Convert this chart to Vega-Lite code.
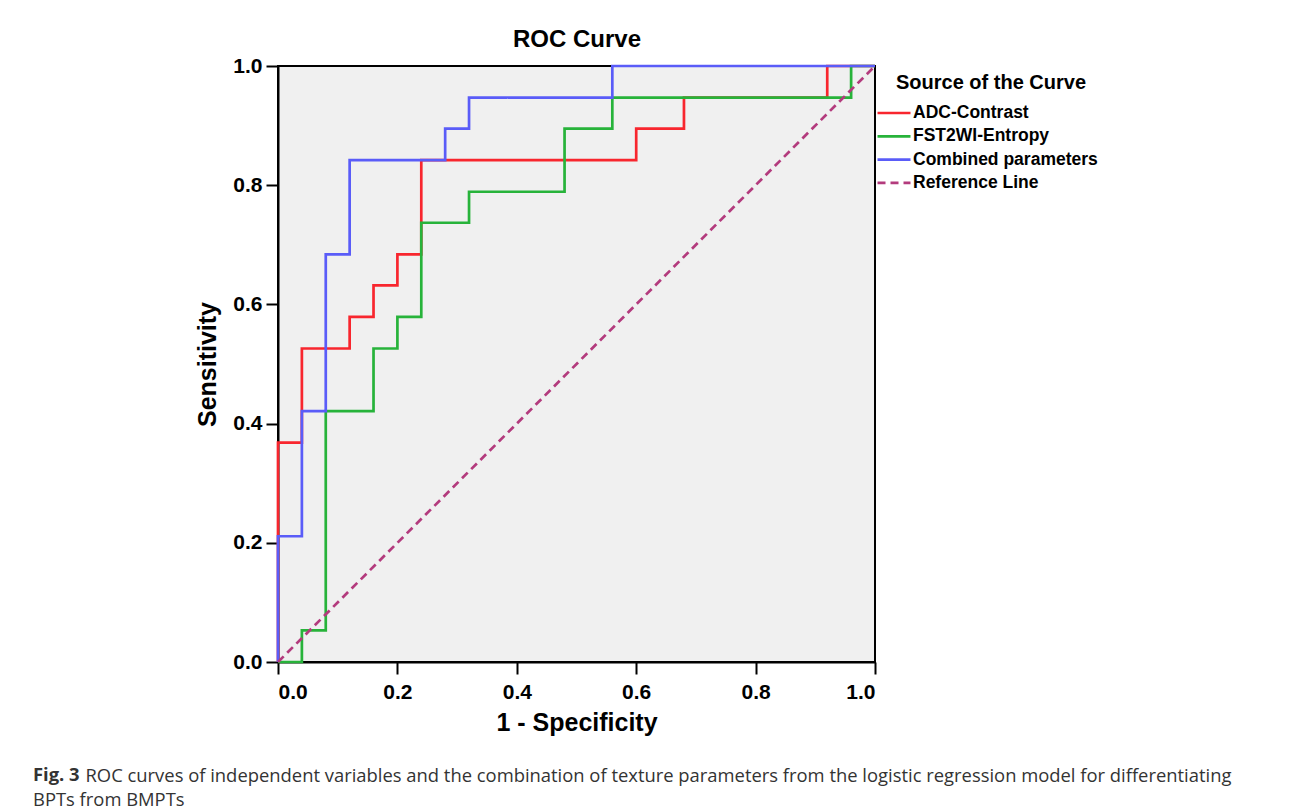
{
  "$schema": "https://vega.github.io/schema/vega-lite/v6.json",
  "width": 597,
  "height": 596,
  "autosize": {"type": "none"},
  "padding": {"left": 278, "top": 66, "right": 417, "bottom": 150},
  "background": "white",
  "datasets": {
    "roc": [
      {"curve": "ADC-Contrast", "order": 0, "x": 0, "y": 0},
      {"curve": "ADC-Contrast", "order": 1, "x": 0, "y": 0.368},
      {"curve": "ADC-Contrast", "order": 2, "x": 0.04, "y": 0.526},
      {"curve": "ADC-Contrast", "order": 3, "x": 0.12, "y": 0.579},
      {"curve": "ADC-Contrast", "order": 4, "x": 0.16, "y": 0.632},
      {"curve": "ADC-Contrast", "order": 5, "x": 0.2, "y": 0.684},
      {"curve": "ADC-Contrast", "order": 6, "x": 0.24, "y": 0.842},
      {"curve": "ADC-Contrast", "order": 7, "x": 0.6, "y": 0.895},
      {"curve": "ADC-Contrast", "order": 8, "x": 0.68, "y": 0.947},
      {"curve": "ADC-Contrast", "order": 9, "x": 0.92, "y": 1},
      {"curve": "ADC-Contrast", "order": 10, "x": 1, "y": 1},
      {"curve": "FST2WI-Entropy", "order": 0, "x": 0, "y": 0},
      {"curve": "FST2WI-Entropy", "order": 1, "x": 0.04, "y": 0.053},
      {"curve": "FST2WI-Entropy", "order": 2, "x": 0.08, "y": 0.421},
      {"curve": "FST2WI-Entropy", "order": 3, "x": 0.16, "y": 0.526},
      {"curve": "FST2WI-Entropy", "order": 4, "x": 0.2, "y": 0.579},
      {"curve": "FST2WI-Entropy", "order": 5, "x": 0.24, "y": 0.737},
      {"curve": "FST2WI-Entropy", "order": 6, "x": 0.32, "y": 0.789},
      {"curve": "FST2WI-Entropy", "order": 7, "x": 0.48, "y": 0.895},
      {"curve": "FST2WI-Entropy", "order": 8, "x": 0.56, "y": 0.947},
      {"curve": "FST2WI-Entropy", "order": 9, "x": 0.96, "y": 1},
      {"curve": "FST2WI-Entropy", "order": 10, "x": 1, "y": 1},
      {"curve": "Combined parameters", "order": 0, "x": 0, "y": 0},
      {"curve": "Combined parameters", "order": 1, "x": 0, "y": 0.211},
      {"curve": "Combined parameters", "order": 2, "x": 0.04, "y": 0.421},
      {"curve": "Combined parameters", "order": 3, "x": 0.08, "y": 0.684},
      {"curve": "Combined parameters", "order": 4, "x": 0.12, "y": 0.842},
      {"curve": "Combined parameters", "order": 5, "x": 0.28, "y": 0.895},
      {"curve": "Combined parameters", "order": 6, "x": 0.32, "y": 0.947},
      {"curve": "Combined parameters", "order": 7, "x": 0.56, "y": 1},
      {"curve": "Combined parameters", "order": 8, "x": 1, "y": 1}
    ],
    "ref": [
      {"curve": "Reference Line", "order": 0, "x": 0, "y": 0},
      {"curve": "Reference Line", "order": 1, "x": 1, "y": 1}
    ]
  },
  "title": {
    "text": "Fig. 3",
    "subtitle": "BPTs from BMPTs",
    "orient": "bottom",
    "anchor": "start",
    "frame": "group",
    "dx": -245,
    "dy": -18,
    "offset": 0,
    "font": "Open Sans",
    "fontSize": 18.4,
    "fontWeight": "bold",
    "color": "#333333",
    "subtitleFont": "Open Sans",
    "subtitleFontSize": 18.4,
    "subtitleFontWeight": "normal",
    "subtitleColor": "#333333",
    "subtitlePadding": 6
  },
  "layer": [
    {
      "layer": [
        {
          "data": {"name": "roc"},
          "mark": {"type": "line", "interpolate": "step-after", "strokeWidth": 2.7, "clip": false},
          "encoding": {
            "x": {"field": "x", "type": "quantitative", "scale": {"domain": [0, 1], "nice": false, "zero": false},
              "axis": {"title": "1 - Specificity", "values": [0, 0.2, 0.4, 0.6, 0.8, 1], "format": ".1f", "titlePadding": 8}},
            "y": {"field": "y", "type": "quantitative", "scale": {"domain": [0, 1], "nice": false, "zero": false},
              "axis": {"title": "Sensitivity", "values": [0, 0.2, 0.4, 0.6, 0.8, 1], "format": ".1f", "labelPadding": 4, "titlePadding": 12}},
            "color": {"field": "curve", "type": "nominal", "title": "Source of the Curve",
              "scale": {"domain": ["ADC-Contrast", "FST2WI-Entropy", "Combined parameters", "Reference Line"],
                        "range": ["#f8262e", "#27b33a", "#5a5cf8", "#b33b7d"]}},
            "strokeDash": {"field": "curve", "type": "nominal", "title": "Source of the Curve",
              "scale": {"domain": ["ADC-Contrast", "FST2WI-Entropy", "Combined parameters", "Reference Line"],
                        "range": [[1, 0], [1, 0], [1, 0], [8, 5]]}},
            "order": {"field": "order", "type": "quantitative"}
          }
        },
        {
          "data": {"name": "ref"},
          "mark": {"type": "line", "strokeWidth": 2.7},
          "encoding": {
            "x": {"field": "x", "type": "quantitative"},
            "y": {"field": "y", "type": "quantitative"},
            "color": {"field": "curve", "type": "nominal", "title": "Source of the Curve"},
            "strokeDash": {"field": "curve", "type": "nominal", "title": "Source of the Curve"},
            "order": {"field": "order", "type": "quantitative"}
          }
        }
      ]
    },
    {
      "data": {"name": "roc"},
      "mark": {"type": "point", "opacity": 0},
      "encoding": {
        "x": {"field": "x", "type": "quantitative", "scale": {"domain": [0, 1], "nice": false, "zero": false},
          "axis": {"orient": "top", "title": "ROC Curve", "labels": false, "ticks": false, "domain": false, "grid": false,
                   "titleFontSize": 24, "titleBaseline": "alphabetic", "titlePadding": 20}},
        "y": {"field": "y", "type": "quantitative", "scale": {"domain": [0, 1], "nice": false, "zero": false},
          "axis": {"orient": "right", "title": "ROC curves of independent variables and the combination of texture parameters from the logistic regression model for differentiating",
                   "labels": false, "ticks": false, "domain": false, "grid": false, "titleLimit": 0,
                   "titleAngle": 0, "titleAlign": "left", "titleBaseline": "alphabetic", "titleX": -790, "titleY": 715,
                   "titleFont": "Open Sans", "titleFontSize": 18.4, "titleFontWeight": "normal", "titleColor": "#333333"}}
      }
    }
  ],
  "resolve": {"scale": {"x": "independent", "y": "independent"}},
  "config": {
    "view": {"fill": "#f0f0f0", "stroke": "black", "strokeWidth": 2},
    "axis": {
      "grid": false,
      "domainColor": "black", "domainWidth": 2,
      "tickColor": "black", "tickWidth": 2, "tickSize": 12,
      "labelFont": "Liberation Sans", "labelFontSize": 21, "labelFontWeight": "bold", "labelColor": "black",
      "labelPadding": 7,
      "titleFont": "Liberation Sans", "titleFontSize": 25, "titleFontWeight": "bold", "titleColor": "black"
    },
    "legend": {
      "orient": "none", "legendX": 606, "legendY": 7, "padding": 0,
      "titleFont": "Liberation Sans", "titleFontSize": 20, "titleFontWeight": "bold", "titleColor": "black",
      "titleAnchor": "middle", "titlePadding": 10, "titleLimit": 0,
      "labelFont": "Liberation Sans", "labelFontSize": 17.5, "labelFontWeight": "bold", "labelColor": "black",
      "labelLimit": 0,
      "labelOffset": 9, "symbolType": "M-2,0H2", "symbolSize": 272, "symbolStrokeWidth": 2.7, "rowPadding": 4.3
    }
  }
}
